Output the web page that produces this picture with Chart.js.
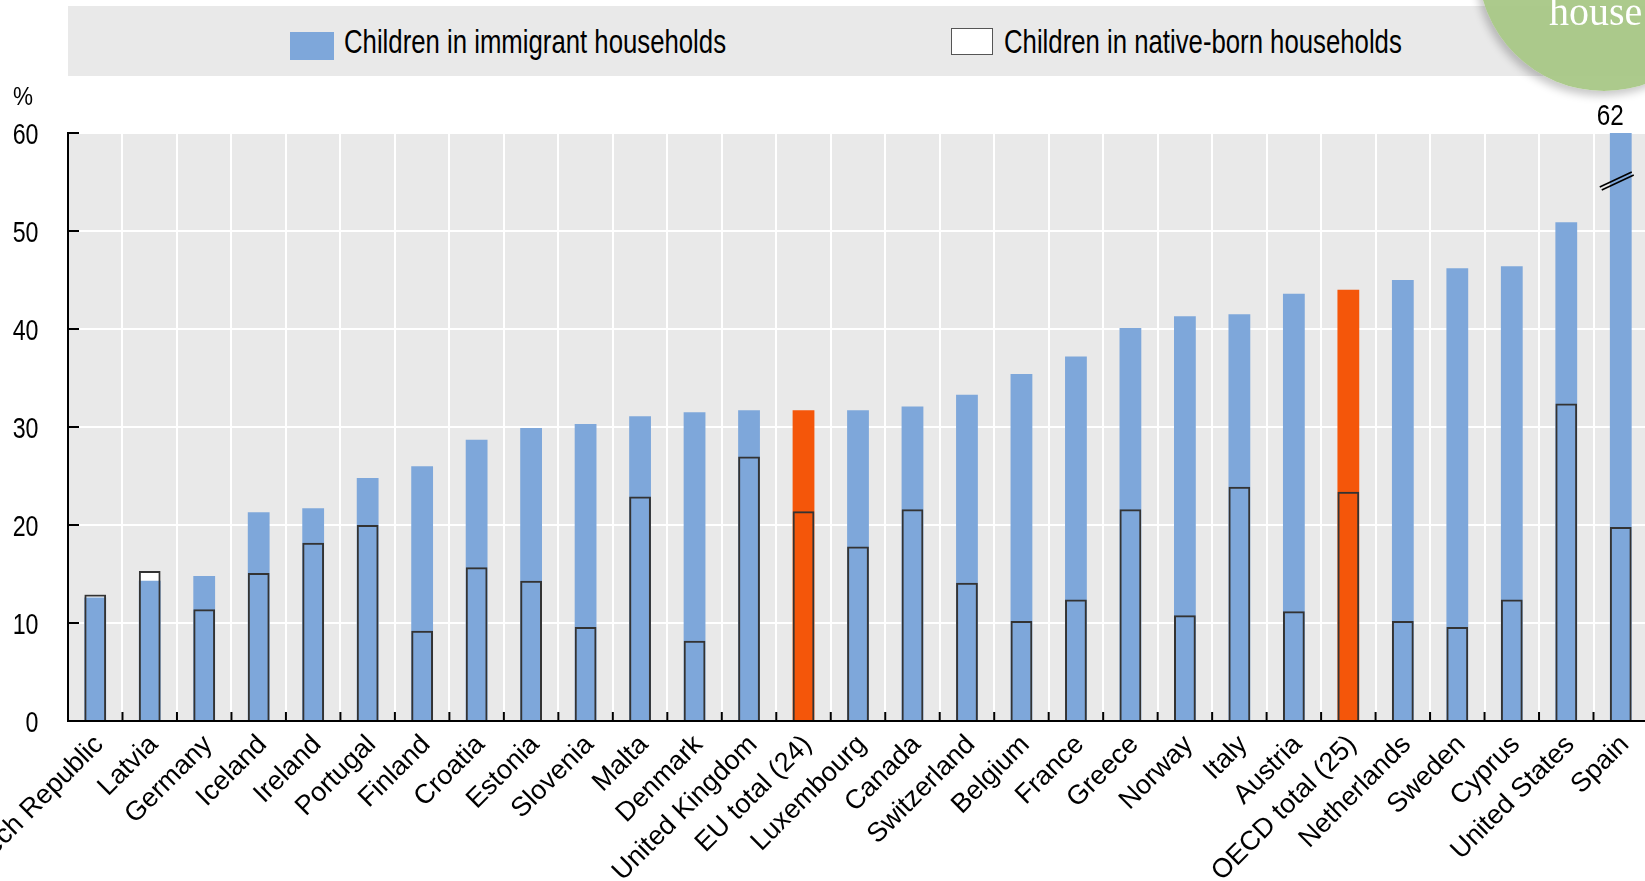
<!DOCTYPE html>
<html>
<head>
<meta charset="utf-8">
<script src="https://cdn.jsdelivr.net/npm/chart.js@4/dist/chart.umd.min.js"></script>
<style>
  html, body { margin: 0; padding: 0; background: #fff; overflow: hidden; }
  #wrap { position: relative; width: 1645px; height: 881px; overflow: hidden; }
  #chart { position: absolute; left: 0; top: 0; }
  .legend { position: absolute; left: 68px; top: 6px; width: 1577px; height: 70px; background: #e9e9e9; }
  .swatch { position: absolute; box-sizing: border-box; }
  /* the source font is a narrow sans; squeeze Liberation Sans to match */
  .ltext { position: absolute; font-family: "Liberation Sans", Arial, sans-serif; font-size: 33px; line-height: 33px;
           color: #000; white-space: nowrap; transform: scaleX(0.78); transform-origin: 0 0; }
  .blob { position: absolute; left: 1478px; top: -161px; width: 252px; height: 252px; border-radius: 50%;
          background: rgba(166, 198, 131, 0.93); box-shadow: -3px 5px 8px rgba(0,0,0,0.22); }
  .blob-text { position: absolute; left: 1549px; top: -12px; font-family: "Liberation Serif", serif; font-size: 40px; color: #fff; }
</style>
</head>
<body>
<div id="wrap">
  <canvas id="chart" width="1648" height="881"></canvas>
  <div class="legend">
    <div class="swatch" style="left:222px;top:26px;width:44px;height:28px;background:#7ea7da;"></div>
    <div class="ltext" style="left:276px;top:19px;">Children in immigrant households</div>
    <div class="swatch" style="left:883px;top:22px;width:42px;height:27px;background:#fff;border:1.5px solid #555;"></div>
    <div class="ltext" style="left:936px;top:19px;">Children in native-born households</div>
  </div>
  <div class="blob"></div>
  <div class="blob-text">house</div>
</div>
<script>
// categories, left to right
const countries = [
  'Czech Republic', 'Latvia', 'Germany', 'Iceland', 'Ireland', 'Portugal', 'Finland',
  'Croatia', 'Estonia', 'Slovenia', 'Malta', 'Denmark', 'United Kingdom', 'EU total (24)',
  'Luxembourg', 'Canada', 'Switzerland', 'Belgium', 'France', 'Greece', 'Norway', 'Italy',
  'Austria', 'OECD total (25)', 'Netherlands', 'Sweden', 'Cyprus', 'United States', 'Spain'
];

// % of children in relative poverty
const immigrant = [
  12.6, 14.3, 14.8, 21.3, 21.7, 24.8, 26.0,
  28.7, 29.9, 30.3, 31.1, 31.5, 31.7, 31.7,
  31.7, 32.1, 33.3, 35.4, 37.2, 40.1, 41.3, 41.5,
  43.6, 44.0, 45.0, 46.2, 46.4, 50.9, 62
];
const nativeBorn = [
  12.9, 15.3, 11.4, 15.1, 18.2, 20.0, 9.2,
  15.7, 14.3, 9.6, 22.9, 8.2, 27.0, 21.4,
  17.8, 21.6, 14.1, 10.2, 12.4, 21.6, 10.8, 23.9,
  11.2, 23.4, 10.2, 9.6, 12.4, 32.4, 19.8
];
const totals = ['EU total (24)', 'OECD total (25)'];
const yTicks = [0, 10, 20, 30, 40, 50, 60];

const BLUE = '#7ea7da';
const ORANGE = '#f4560a';
const SANS = '"Liberation Sans", Arial, sans-serif';

// draw text squeezed horizontally (no narrow font installed)
function narrowText(ctx, text, x, y, size, squeeze, align) {
  ctx.save();
  ctx.translate(x, y);
  ctx.scale(squeeze, 1);
  ctx.font = size + 'px ' + SANS;
  ctx.textAlign = align;
  ctx.textBaseline = 'alphabetic';
  ctx.fillText(text, 0, 0);
  ctx.restore();
}

// grey plot background, inner tick marks, y labels, "%" unit, break marks on Spain
const decor = {
  id: 'decor',
  beforeDraw(chart) {
    const { ctx, chartArea: a } = chart;
    ctx.save();
    ctx.fillStyle = '#e9e9e9';
    ctx.fillRect(a.left, a.top, a.right - a.left, a.bottom - a.top);
    ctx.restore();
  },
  afterDraw(chart) {
    const { ctx, chartArea: a, scales: { y } } = chart;
    ctx.save();
    ctx.strokeStyle = '#000';
    ctx.fillStyle = '#000';
    ctx.lineWidth = 2;
    // y ticks point inward
    yTicks.forEach(v => {
      const py = y.getPixelForValue(v);
      ctx.beginPath();
      ctx.moveTo(a.left, py);
      ctx.lineTo(a.left + 11, py);
      ctx.stroke();
      narrowText(ctx, String(v), 38.5, py + 10.5, 29, 0.8, 'right');
    });
    // x ticks at category boundaries, pointing up
    const step = (a.right - a.left) / countries.length;
    for (let i = 1; i <= countries.length; i++) {
      const px = a.left + i * step;
      ctx.beginPath();
      ctx.moveTo(px, a.bottom);
      ctx.lineTo(px, a.bottom - 9);
      ctx.stroke();
    }

    narrowText(ctx, '%', 13, a.top - 28, 25, 0.9, 'left');

    // Spain goes off the scale
    const last = countries.length - 1;
    const bar = chart.getDatasetMeta(1).data[last];
    narrowText(ctx, String(immigrant[last]), bar.x - 10.5, a.top - 8, 30, 0.81, 'center');

    const by = y.getPixelForValue(55);
    ctx.lineWidth = 1.6;
    [[0, 0], [2, 3]].forEach(([dx, dy]) => {
      ctx.beginPath();
      ctx.moveTo(bar.x - 21 + dx, by + 5 + dy);
      ctx.lineTo(bar.x + 11 + dx, by - 10 + dy);
      ctx.stroke();
    });
    ctx.restore();
  }
};

const ctx = document.getElementById('chart').getContext('2d');
new Chart(ctx, {
  type: 'bar',
  data: {
    labels: countries,
    datasets: [
      {
        label: 'Children in native-born households',
        data: nativeBorn,
        backgroundColor: 'rgba(0,0,0,0)',
        borderColor: '#333333',
        borderWidth: 2,
        order: 0
      },
      {
        label: 'Children in immigrant households',
        data: immigrant,
        backgroundColor: countries.map(c => totals.includes(c) ? ORANGE : BLUE),
        borderWidth: 0,
        order: 1
      },
      {
        label: 'native fill',
        data: nativeBorn,
        backgroundColor: '#ffffff',
        borderWidth: 0,
        order: 2
      }
    ]
  },
  options: {
    responsive: false,
    animation: false,
    layout: { padding: { top: 133, left: 0, right: 0, bottom: 0 } },
    datasets: {
      bar: { grouped: false, barPercentage: 0.4, categoryPercentage: 1 }
    },
    plugins: {
      legend: { display: false },
      tooltip: { enabled: false }
    },
    scales: {
      x: {
        offset: true,
        grid: { color: '#ffffff', lineWidth: 2, drawTicks: false, offset: true },
        border: { color: '#000', width: 2 },
        ticks: {
          autoSkip: false,
          minRotation: 45,
          maxRotation: 45,
          padding: 8,
          labelOffset: 4,
          color: '#000',
          font: { family: SANS, size: 27 }
        },
        afterFit(scale) {
          scale.height = 160;
          scale.paddingLeft = 0;
          scale.paddingRight = 0;
        }
      },
      y: {
        min: 0,
        max: 60,
        grid: { color: '#ffffff', lineWidth: 2, drawTicks: false },
        border: { color: '#000', width: 2 },
        ticks: { stepSize: 10, display: false },
        afterFit(scale) {
          scale.width = 68;
        }
      }
    }
  },
  plugins: [decor]
});
</script>
</body>
</html>
